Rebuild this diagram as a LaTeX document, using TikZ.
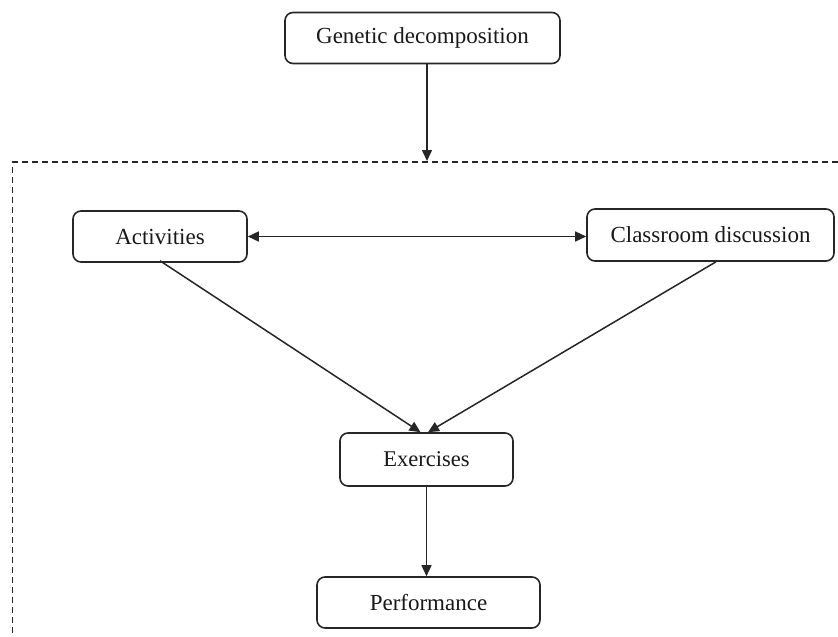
\documentclass[tikz,border=0pt]{standalone}
\usepackage{fontspec}
\setmainfont{Liberation Serif}
\usetikzlibrary{arrows.meta}
\begin{document}
\begin{tikzpicture}[x=1pt,y=-1pt,
  box/.style={draw=black!85, line width=1.6pt, rounded corners=8pt, align=center, inner sep=0pt,
    font=\fontsize{23}{27}\selectfont, text=black!90},
  conn/.style={line width=1.5pt, draw=black!85},
  tip/.style={-{Triangle[length=11pt,width=10pt]}},
  dtip/.style={{Triangle[length=11pt,width=10pt]}-{Triangle[length=11pt,width=10pt]}},
  dashbox/.style={line width=1.5pt, draw=black!85, dash pattern=on 6pt off 4pt}]
\useasboundingbox (0,0) rectangle (838,637);
\node[box, minimum width=275pt, minimum height=51pt] (gen) at (422.5,38) {Genetic decomposition};
\node[box, minimum width=174pt, minimum height=51pt] (act) at (160,236.5) {Activities};
\node[box, minimum width=247pt, minimum height=52pt] (cls) at (710.5,235) {Classroom discussion};
\node[box, minimum width=173pt, minimum height=53pt, font=\fontsize{22.5}{27}\selectfont] (ex) at (426.5,459.5) {Exercises};
\node[box, minimum width=223pt, minimum height=51pt] (perf) at (428.5,602.5) {Performance};
\coordinate (dtop) at (427,161);
\coordinate (dtr) at (838,162);
\coordinate (dtl) at (12.7,162);
\coordinate (dbl) at (12.7,637);
\draw[dashbox] (dtr) -- (dtl) -- (dbl);
\draw[conn, tip] (gen.south -| dtop) -- (dtop);
\draw[conn, dtip] (act.east) -- (act.east -| cls.west);
\draw[conn, tip] ([xshift=0pt,yshift=2pt]act.south) -- ([xshift=-6pt]ex.north);
\draw[conn, tip] ([xshift=5.5pt]cls.south) -- ([xshift=1.5pt]ex.north);
\draw[conn, tip] (ex.south) -- (ex.south |- perf.north);
\end{tikzpicture}
\end{document}
